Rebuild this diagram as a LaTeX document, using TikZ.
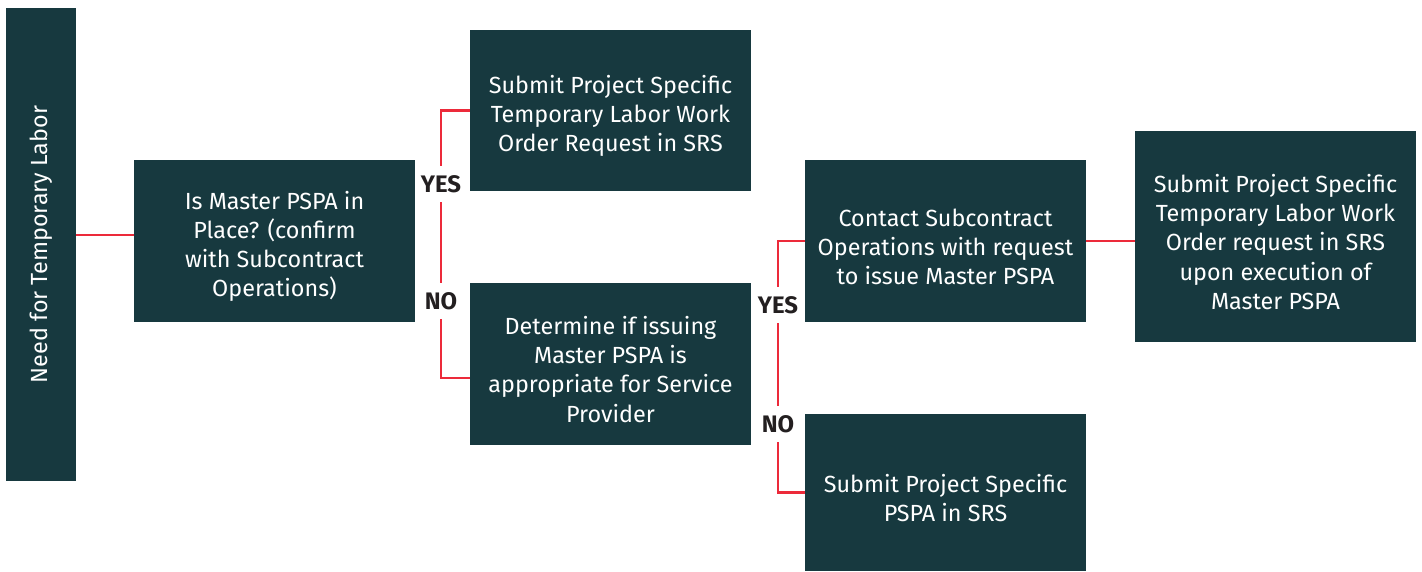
\documentclass[tikz,border=0pt]{standalone}
\usepackage{fontspec}
\setmainfont{Fira Sans}
\definecolor{boxteal}{HTML}{17393F}
\definecolor{linkred}{HTML}{EC2A3A}
\definecolor{answergray}{HTML}{231F20}
\newcommand\topstrut{\rule{0pt}{16.5pt}}
\begin{document}
\begin{tikzpicture}[x=0.02cm, y=-0.02cm]
\tikzset{ box/.style={fill=boxteal, text=white, align=center, inner sep=0pt,
            minimum width=5.62cm, font=\fontsize{13.3}{16.6}\selectfont},
          link/.style={linkred, line width=1.4pt},
          answer/.style={text=answergray, inner sep=0pt, minimum height=0.72cm,
            font=\bfseries\fontsize{13.6}{16}\selectfont}, }

\useasboundingbox (0,0) rectangle (1422,571);
%\draw [lightgray, dashed] (0,0) grid [step=100] (1422,571);

\node [box, rotate=90, minimum width=9.46cm, minimum height=1.4cm] (need) at (41,244.5) {Need for Temporary Labor};

\node [box, minimum height=3.24cm] (master) at (274.5,241) {\topstrut Is Master PSPA in\\Place? (confirm\\with Subcontract\\Operations)};
\node [box, minimum height=3.22cm] (workorder) at (610.5,110.5) {\topstrut Submit Project Specific\\Temporary Labor Work\\Order Request in SRS};
\node [box, minimum height=3.24cm] (determine) at (610.5,364) {\topstrut Determine if issuing\\Master PSPA is\\appropriate for Service\\Provider};
\node [box, minimum height=3.24cm] (contact) at (945.5,241) {\topstrut Contact Subcontract\\Operations with request\\to issue Master PSPA};
\node [box, minimum height=3.14cm] (projpspa) at (945.5,492.5) {\topstrut Submit Project Specific\\PSPA in SRS};
\node [box, minimum height=4.22cm] (upon) at (1275.5,236.5) {\topstrut Submit Project Specific\\Temporary Labor Work\\Order request in SRS\\upon execution of\\Master PSPA};

\node [answer] (yesA) at (441,184) {YES};
\node [answer] (noA)  at (441,301) {NO};
\node [answer] (yesB) at (778,305) {YES};
\node [answer] (noB)  at (778,424) {NO};

\draw [link] ([yshift=0.12cm]master.west -| need.south) -- ([yshift=0.12cm]master.west);

\draw [link] (workorder.west) -| (yesA);
\draw [link] (yesA) -- (noA);
\draw [link] (noA) |- ([yshift=-0.28cm]determine.west);

\draw [link] (contact.west) -| (yesB);
\draw [link] (yesB) -- (noB);
\draw [link] (noB) |- (projpspa.west);

\draw [link] (contact.east) -- (contact.east -| upon.west);

\end{tikzpicture}
\end{document}
